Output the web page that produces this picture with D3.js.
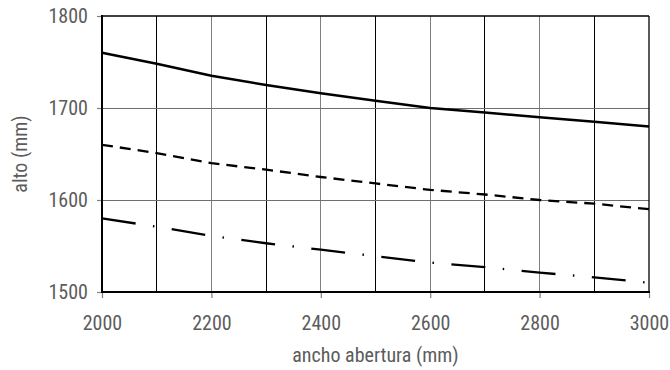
<!DOCTYPE html>
<html>
<head>
<meta charset="utf-8">
<script src="https://cdn.jsdelivr.net/npm/d3@7/dist/d3.min.js"></script>
<style>
  html, body { margin: 0; padding: 0; background: #fff; }
  svg { display: block; }
  .lbl { font-family: "Roboto Condensed", "Liberation Sans Narrow", "Arial Narrow", "Liberation Sans", sans-serif; fill: #5c5c5c; font-weight: 400; }
</style>
</head>
<body>
<svg id="chart" width="670" height="370"></svg>
<script>
// ---- data ----
const widths = [2000, 2100, 2200, 2300, 2400, 2500, 2600, 2700, 2800, 2900, 3000];
const seriesSolid = [1760, 1748, 1735, 1725, 1716, 1708, 1700, 1695, 1690, 1685, 1680];
const seriesDashed = [1660, 1651, 1640, 1633, 1625, 1618, 1611, 1606, 1600, 1596, 1590];
const seriesDashDot = [1580, 1571, 1561, 1553, 1546, 1539, 1532, 1527, 1521, 1516, 1510];
const xTickLabels = [2000, 2200, 2400, 2600, 2800, 3000];
const yTickLabels = [1500, 1600, 1700, 1800];
const xTitle = "ancho abertura (mm)";
const yTitle = "alto (mm)";

// ---- layout ----
const svg = d3.select("#chart");
const pL = 102, pR = 649, pT = 16, pB = 292;
const fs = "20px";
const x = d3.scaleLinear().domain([2000, 3000]).range([pL, pR]);
const y = d3.scaleLinear().domain([1500, 1800]).range([pB, pT]);

// vertical grid lines (alternating black / gray)
svg.append("g").selectAll("line")
  .data(widths.slice(1, -1))
  .join("line")
  .attr("x1", d => x(d)).attr("x2", d => x(d))
  .attr("y1", pT).attr("y2", pB)
  .attr("stroke", d => (d % 200 === 0) ? "#808080" : "#000")
  .attr("stroke-width", 1)
  .attr("shape-rendering", "crispEdges");

// horizontal grid lines
svg.append("g").selectAll("line")
  .data([1600, 1700])
  .join("line")
  .attr("x1", pL).attr("x2", pR)
  .attr("y1", d => y(d)).attr("y2", d => y(d))
  .attr("stroke", "#6e6e6e")
  .attr("stroke-width", 1)
  .attr("shape-rendering", "crispEdges");

// axes (ticks + labels)
const xAxis = d3.axisBottom(x).tickValues(xTickLabels).tickSize(6).tickPadding(18).tickFormat(d3.format("d"));
const gx = svg.append("g").attr("transform", `translate(0,${pB})`).call(xAxis);
gx.select(".domain").remove();
gx.selectAll(".tick line").attr("stroke", "#808080").attr("stroke-width", 1.2);
gx.selectAll(".tick text").attr("class", "lbl").style("font-size", fs);

const yAxis = d3.axisLeft(y).tickValues(yTickLabels).tickSize(5).tickPadding(9).tickFormat(d3.format("d"));
const gy = svg.append("g").attr("transform", `translate(${pL},0)`).call(yAxis);
gy.select(".domain").remove();
gy.selectAll(".tick line").attr("stroke", "#808080").attr("stroke-width", 1.2);
gy.selectAll(".tick text").attr("class", "lbl").style("font-size", fs);

// plot frame
svg.append("line").attr("x1", pL).attr("x2", pR).attr("y1", pT).attr("y2", pT)
  .attr("stroke", "#000").attr("stroke-width", 1.3);
svg.append("line").attr("x1", pR).attr("x2", pR).attr("y1", pT).attr("y2", pB)
  .attr("stroke", "#000").attr("stroke-width", 1.3);
svg.append("line").attr("x1", pL).attr("x2", pL).attr("y1", pT - 1).attr("y2", pB + 1)
  .attr("stroke", "#000").attr("stroke-width", 2);
svg.append("line").attr("x1", pL - 1).attr("x2", pR + 1).attr("y1", pB).attr("y2", pB)
  .attr("stroke", "#000").attr("stroke-width", 2);

// series lines
const line = d3.line().x((d, i) => x(widths[i])).y(d => y(d));
svg.append("path").datum(seriesSolid).attr("d", line)
  .attr("fill", "none").attr("stroke", "#000").attr("stroke-width", 2.5);
svg.append("path").datum(seriesDashed).attr("d", line)
  .attr("fill", "none").attr("stroke", "#000").attr("stroke-width", 2.3)
  .attr("stroke-dasharray", "11,7");
svg.append("path").datum(seriesDashDot).attr("d", line)
  .attr("fill", "none").attr("stroke", "#000").attr("stroke-width", 2.3)
  .attr("stroke-dasharray", "34,17.5,1.5,17.5");

// titles
svg.append("text").attr("class", "lbl")
  .attr("x", (pL + pR) / 2).attr("y", 362)
  .attr("text-anchor", "middle").style("font-size", fs)
  .text(xTitle);
svg.append("text").attr("class", "lbl")
  .attr("transform", `translate(27,${(pT + pB) / 2}) rotate(-90)`)
  .attr("text-anchor", "middle").style("font-size", fs)
  .text(yTitle);
</script>
</body>
</html>
